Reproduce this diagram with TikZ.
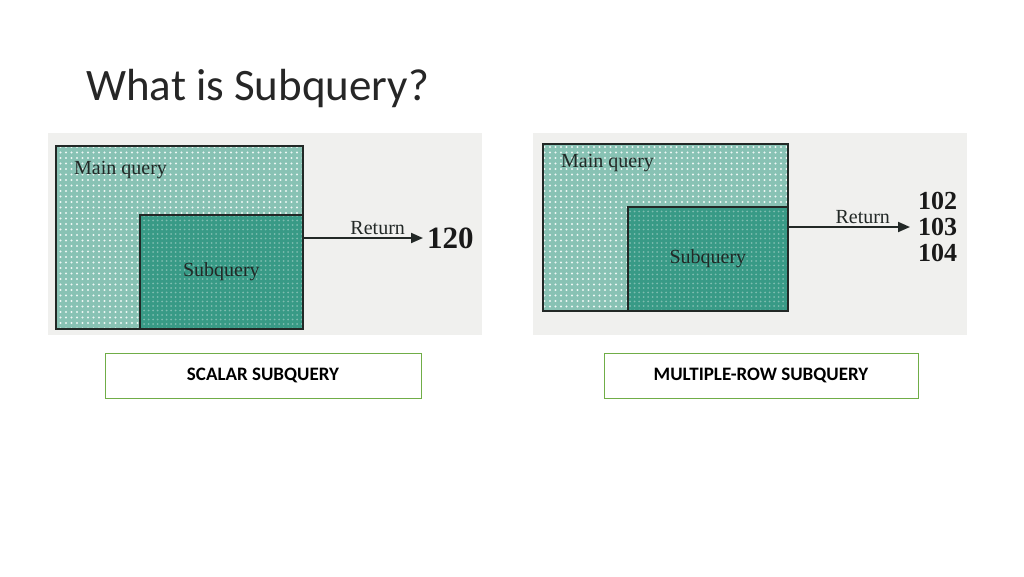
\documentclass[tikz,border=0pt]{standalone}
\usepackage{fontspec}
\setmainfont{Liberation Serif}
\newfontfamily\slidefont{Carlito}
\usepackage{tikz}
\usetikzlibrary{arrows.meta, positioning, calc, patterns.meta}
\definecolor{panelcolor}{RGB}{240, 240, 238}
\definecolor{maincolor}{RGB}{136, 194, 180}
\definecolor{subcolor}{RGB}{56, 154, 134}
\definecolor{framecolor}{RGB}{112, 173, 71}
\definecolor{edgecolor}{RGB}{34, 40, 38}
\tikzstyle{panel} = [rectangle, fill=panelcolor, draw=none, inner sep=0pt, anchor=north west]
\tikzstyle{mainbox} = [rectangle, draw=edgecolor, line width=1.8pt, inner sep=0pt, anchor=north west, preaction={fill=maincolor}, pattern={Dots[distance=5.5pt, radius=1.1pt]}, pattern color=white!85!maincolor]
\tikzstyle{subbox} = [rectangle, draw=edgecolor, line width=1.8pt, inner sep=0pt, anchor=south east, preaction={fill=subcolor}, pattern={Dots[distance=4.5pt, radius=1pt]}, pattern color=subcolor!65!white, text=edgecolor, font=\fontsize{20}{24}\selectfont]
\tikzstyle{boxtext} = [anchor=west, inner sep=0pt, text=edgecolor, font=\fontsize{20}{24}\selectfont]
\tikzstyle{result} = [anchor=west, inner sep=4pt, text=black!90, font=\bfseries]
\tikzstyle{caption} = [rectangle, draw=framecolor, line width=0.8pt, minimum height=45pt, text centered, font=\slidefont\bfseries\fontsize{19}{22}\selectfont]
\tikzstyle{arrow} = [line width=2pt, draw=edgecolor, -{Triangle[length=12pt, width=10pt]}]
\tikzstyle{retlabel} = [above, inner sep=2pt, text=edgecolor, font=\fontsize{20}{24}\selectfont]

\begin{document}
\begin{tikzpicture}[x=1pt, y=-1pt]
    \useasboundingbox (0, 0) rectangle (1024, 576);
    % Title
    \node[anchor=base west, inner sep=0pt, text=black!85, font=\slidefont\fontsize{45}{50}\selectfont] (title) at (86, 100) {What is Subquery?};

    % Left side - Scalar
    \node[panel, minimum width=434pt, minimum height=202pt] (panel1) at (48, 133) {};
    \node[mainbox, minimum width=247pt, minimum height=183pt] (main1) at (55, 145) {};
    \node[boxtext] (mainlbl1) at ($(main1.north west)+(19, 25)$) {Main query};
    \node[subbox, minimum width=163pt, minimum height=114pt] (sub1) at (main1.south east) {Subquery};
    \node[result, font=\bfseries\fontsize{31}{34}\selectfont] (res1) at (423, 238) {120};
    \node[caption, minimum width=316pt] (cap1) at (263, 375.5) {SCALAR SUBQUERY};

    % Right side - Multiple-row
    \node[panel, minimum width=434pt, minimum height=202pt] (panel2) at (533, 133) {};
    \node[mainbox, minimum width=245pt, minimum height=167pt] (main2) at (542, 143) {};
    \node[boxtext] (mainlbl2) at ($(main2.north west)+(19, 20)$) {Main query};
    \node[subbox, minimum width=160pt, minimum height=104pt] (sub2) at (main2.south east) {Subquery};
    \node[result, inner xsep=8pt, align=left, font=\bfseries\fontsize{26}{26}\selectfont] (res2) at (910, 227) {102\\103\\104};
    \node[caption, minimum width=314pt] (cap2) at (761, 375.5) {MULTIPLE-ROW SUBQUERY};

    % Arrows
    \draw[arrow] (res1.west -| sub1.east) -- node[retlabel, pos=0.62] {Return} (res1.west);
    \draw[arrow] (res2.west -| sub2.east) -- node[retlabel, pos=0.61] {Return} (res2.west);
\end{tikzpicture}
\end{document}
